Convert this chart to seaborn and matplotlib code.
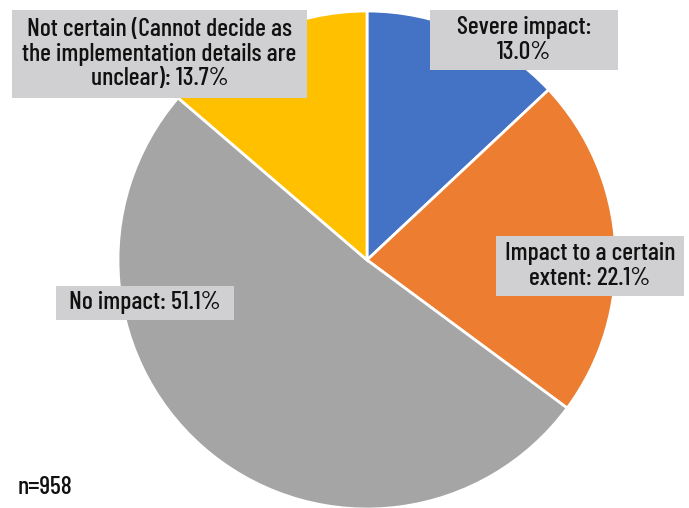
import matplotlib
matplotlib.use("Agg")
import matplotlib.pyplot as plt
from matplotlib import font_manager
from matplotlib.patches import Rectangle
import seaborn as sns

categories = [
    "Severe impact",
    "Impact to a certain extent",
    "No impact",
    "Not certain (Cannot decide as the implementation details are unclear)",
]
shares = [13.0, 22.1, 51.1, 13.7]
label_texts = [
    "Severe impact:\n13.0%",
    "Impact to a certain\nextent: 22.1%",
    "No impact: 51.1%",
    "Not certain (Cannot decide as\nthe implementation details are\nunclear): 13.7%",
]
colors = ["#4472C4", "#ED7D31", "#A5A5A5", "#FFC000"]
sample_note = "n=958"

sns.set_theme(style="white")
plt.rcParams["font.family"] = ["DejaVu Sans"]

# pick a condensed face for the labels, Barlow Condensed first
def find_font(*patterns):
    for p in patterns:
        for f in font_manager.fontManager.ttflist:
            if p in f.fname.split("/")[-1]:
                return font_manager.FontProperties(fname=f.fname)
    return font_manager.FontProperties(family="DejaVu Sans", stretch="condensed")

label_font = find_font("BarlowCondensed-Medium", "BarlowCondensed-Regular",
                       "BarlowSemiCondensed-Regular", "AsapCondensed-Regular",
                       "DejaVuSansCondensed.ttf")
FS = 18.5

W, H = 689, 508
fig = plt.figure(figsize=(W / 100, H / 100), dpi=100)
fig.patch.set_facecolor("white")

cx, cy, r = 367, 260, 249
ax = fig.add_axes([(cx - r) / W, (H - cy - r) / H, 2 * r / W, 2 * r / H])
ax.pie(shares, colors=colors, startangle=90, counterclock=False,
       wedgeprops=dict(edgecolor="white", linewidth=2))
ax.set_xlim(-1, 1)
ax.set_ylim(-1, 1)
ax.set_aspect("equal")
ax.axis("off")

boxes = [
    (430, 10, 188, 60),
    (496, 236, 188, 60),
    (56, 286, 178, 34),
    (12, 10, 295, 88),
]
box_color = "#D0D0D2"
for (x, y, w, h), txt in zip(boxes, label_texts):
    fig.add_artist(Rectangle((x / W, (H - y - h) / H), w / W, h / H,
                             transform=fig.transFigure, facecolor=box_color,
                             edgecolor="none", zorder=3))
    t = fig.text((x + w / 2) / W, (H - y - h / 2) / H, txt, ha="center", va="center",
                 color="#111111", linespacing=1.06, zorder=4, fontproperties=label_font)
    t.set_fontsize(FS)

fig.text(18 / W, (H - 488) / H, sample_note, ha="left", va="center",
         color="#111111", fontproperties=label_font).set_fontsize(FS)

fig.savefig("out.png", dpi=100, facecolor="white")
